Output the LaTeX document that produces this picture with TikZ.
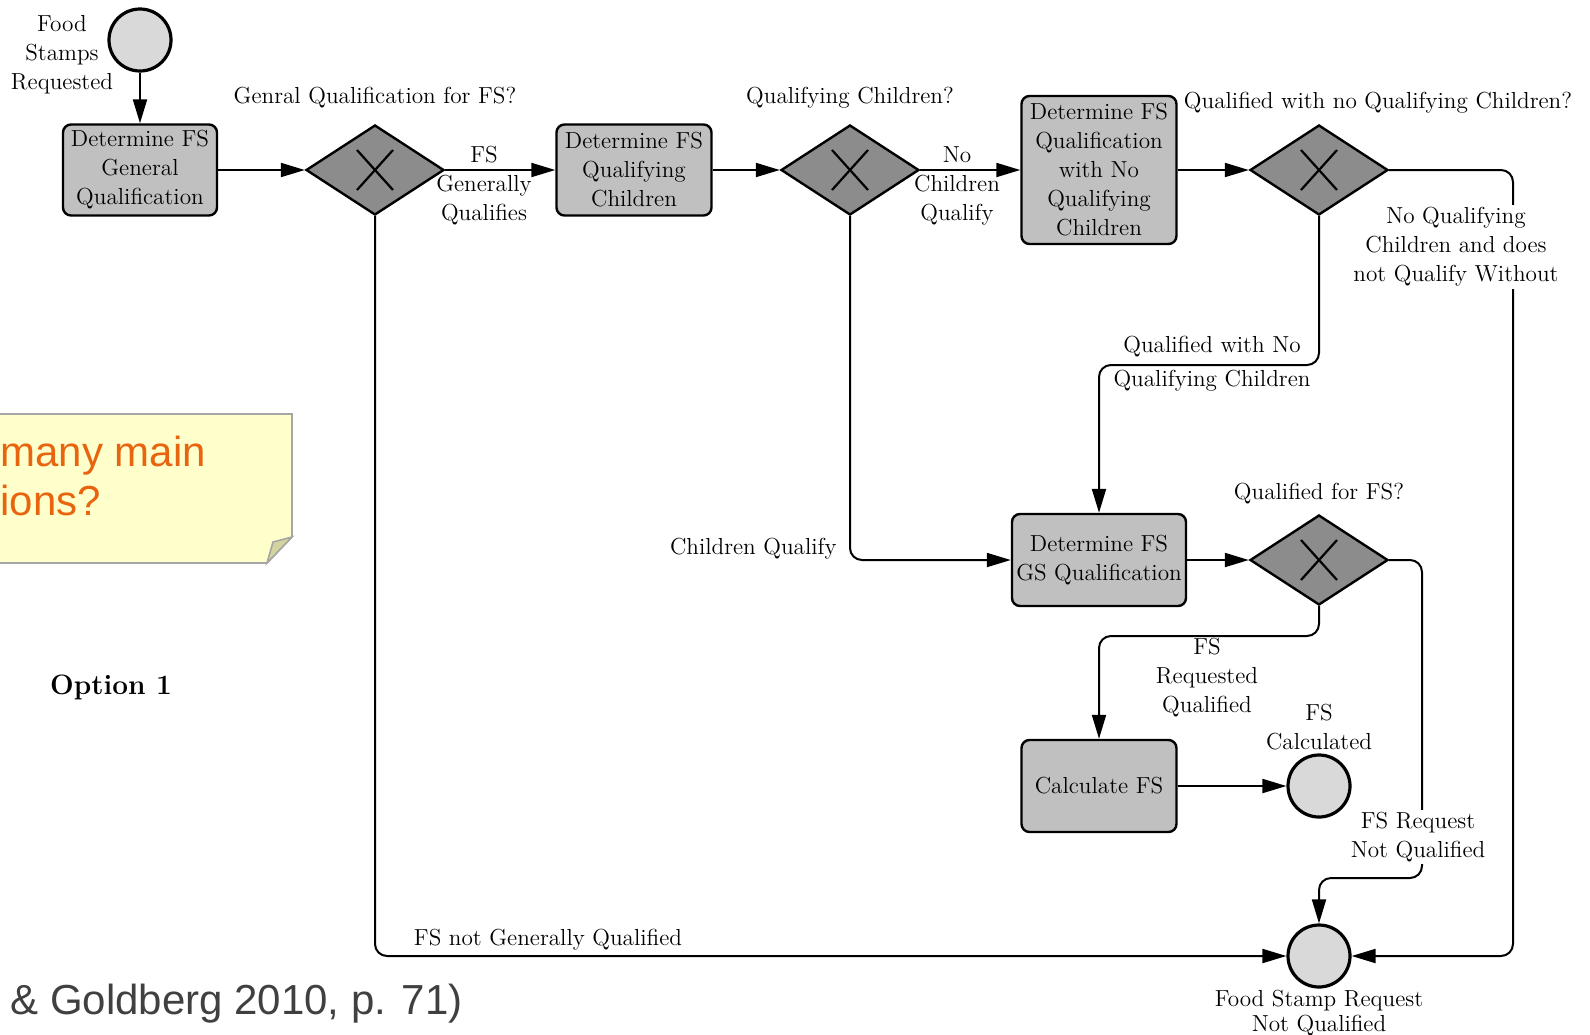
\documentclass[tikz,border=0pt]{standalone}
\usepackage{fontspec}
\newfontfamily\notefont{Liberation Sans}
\usetikzlibrary{shapes.geometric, arrows.meta}

\definecolor{taskgray}{RGB}{192,192,192}
\definecolor{gategray}{RGB}{140,140,140}
\definecolor{eventgray}{RGB}{217,217,217}
\definecolor{noteyellow}{RGB}{255,255,204}
\definecolor{notefold}{RGB}{212,212,160}
\definecolor{noteorange}{RGB}{232,100,14}

\begin{document}
\begin{tikzpicture}[x = 0.5pt, y = -0.5pt,
  every node/.style = {font = \fontsize{11.6}{14.5}\selectfont},
  task/.style = {draw, line width = 1.2pt, fill = taskgray, rounded corners = 4pt, align = center, inner sep = 1pt},
  gate/.style = {draw, line width = 1.2pt, fill = gategray, diamond, minimum width = 69pt, minimum height = 45pt, inner sep = 0pt},
  event/.style = {draw, line width = 1.6pt, fill = eventgray, circle, minimum size = 31pt, inner sep = 0pt},
  lbl/.style = {align = center, inner sep = 1pt},
  flow/.style = {line width = 1pt, -{Triangle[length = 12pt, width = 7pt]}, rounded corners = 6pt}]

\useasboundingbox (0, 0) rectangle (1590, 1034);

% sticky note and slide text
\filldraw[draw = gray!70, fill = noteyellow, line width = 0.8pt] (-10, 414) -- (292, 414) -- (292, 537) -- (267, 563) -- (-10, 563) -- cycle;
\filldraw[draw = gray!70, fill = notefold, line width = 0.8pt] (292, 537) -- (273, 542) -- (267, 563) -- cycle;
\node[anchor = west, align = left, inner sep = 0pt, text = noteorange, font = \notefont\fontsize{21}{24.5}\selectfont] (note) at (0, 476) {many main\\ions?};
\node[anchor = west, inner sep = 0pt, text = black!75, font = \notefont\fontsize{21}{24}\selectfont] (cite) at (10, 1004) {\& Goldberg 2010, p. 71)};
\node[font = \fontsize{14}{17}\selectfont\bfseries] (option) at (111, 687) {Option 1};

% events, tasks, gateways
\node[event] (start) at (140, 40) {};
\node[task, minimum width = 77pt, minimum height = 45.5pt] (general) at (140, 170) {Determine FS\\General\\Qualification};
\node[gate] (genq) at (375, 170) {};
\node[task, minimum width = 77.5pt, minimum height = 45.5pt] (qualchild) at (634, 170) {Determine FS\\Qualifying\\Children};
\node[gate] (childq) at (850, 170) {};
\node[task, minimum width = 77.5pt, minimum height = 74pt] (noqual) at (1099, 170) {Determine FS\\Qualification\\with No\\Qualifying\\Children};
\node[gate] (noq) at (1319, 170) {};
\node[task, minimum width = 87pt, minimum height = 46pt] (gsqual) at (1099, 560) {Determine FS\\GS Qualification};
\node[gate] (fsq) at (1319, 560) {};
\node[task, minimum width = 77.5pt, minimum height = 46pt] (calcfs) at (1099, 786) {Calculate FS};
\node[event] (calced) at (1319, 786) {};
\node[event] (stop) at (1319, 956) {};

\foreach \g in {genq, childq, noq, fsq}
  \draw[line width = 1.1pt] ([shift = {(-18, -20)}]\g.center) -- ([shift = {(18, 20)}]\g.center)
    ([shift = {(-18, 20)}]\g.center) -- ([shift = {(18, -20)}]\g.center);

\coordinate (rlane) at (1513, 956);
\coordinate (bend1) at (1319, 365);
\coordinate (bend2) at (1319, 636);
\coordinate (bend3) at (1422, 878);

% sequence flows
\draw[flow] (start) -- (general);
\draw[flow] (general) -- (genq);
\draw[flow] (genq) -- (qualchild);
\draw[flow] (qualchild) -- (childq);
\draw[flow] (childq) -- (noqual);
\draw[flow] (noqual) -- (noq);
\draw[flow] (noq.east) -| (rlane) -- (stop.east);
\draw[flow] (noq.south) -- (bend1) -| (gsqual.north);
\draw[flow] (childq.south) |- (gsqual.west);
\draw[flow] (gsqual) -- (fsq);
\draw[flow] (fsq.south) -- (bend2) -| (calcfs.north);
\draw[flow] (calcfs) -- (calced);
\draw[flow] (fsq.east) -| (bend3) -| (stop.north);
\draw[flow] (genq.south) |- (stop.west);

% labels
\node[lbl] (startlbl) at (62, 55) {Food\\Stamps\\Requested};
\node[lbl] (genqlbl) at (375, 98) {Genral Qualification for FS?};
\node[lbl] (genyes) at (484, 186) {FS\\Generally\\Qualifies};
\node[lbl] (childqlbl) at (850, 98) {Qualifying Children?};
\node[lbl] (childno) at (957, 186) {No\\Children\\Qualify};
\node[lbl] (noqlbl) at (1378, 103) {Qualified with no Qualifying Children?};
\node[lbl, fill = white] (noqno) at (1456, 247) {No Qualifying\\Children and does\\not Qualify Without};
\node[lbl] (noqyes) at (1212, 364) {Qualified with No\\[2.5pt]Qualifying Children};
\node[lbl, anchor = east] (childyes) at (839, 549) {Children Qualify};
\node[lbl] (fsqlbl) at (1319, 494) {Qualified for FS?};
\node[lbl] (fsqyes) at (1207, 678) {FS\\Requested\\Qualified};
\node[lbl] (calcedlbl) at (1319, 727) {FS\\Calculated};
\node[lbl, fill = white] (fsqno) at (1418, 837) {FS Request\\Not Qualified};
\node[lbl] (genno) at (548, 940) {FS not Generally Qualified};
\node[lbl, font = \fontsize{11.6}{12.5}\selectfont] (stoplbl) at (1319, 1013) {Food Stamp Request\\Not Qualified};

\end{tikzpicture}
\end{document}
